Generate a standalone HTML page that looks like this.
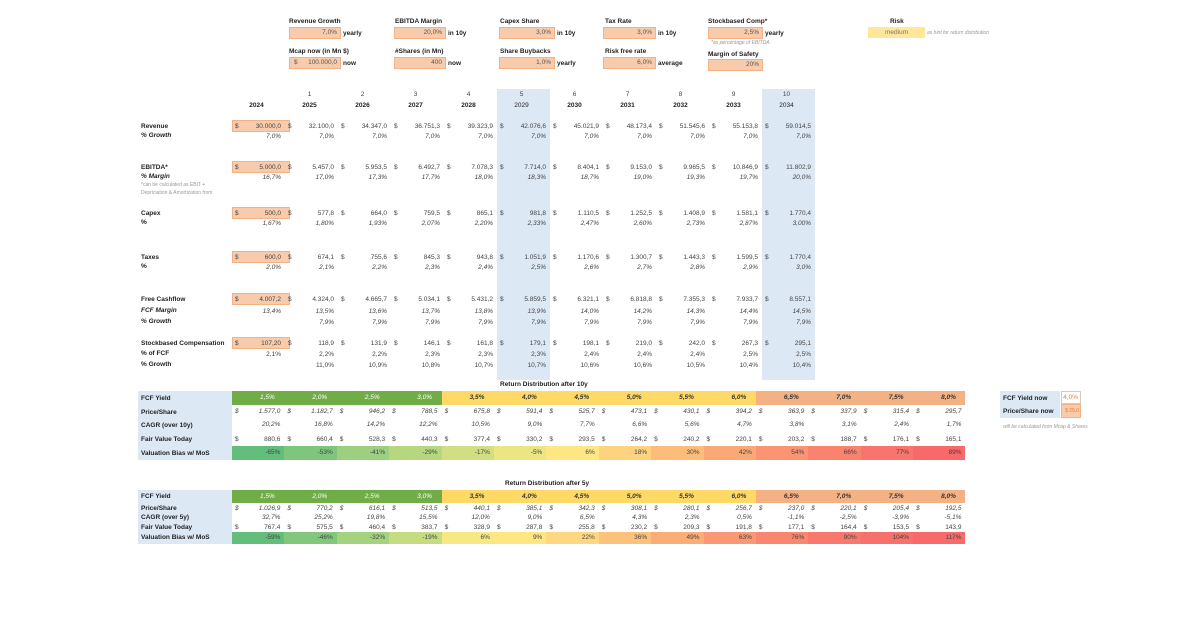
<!DOCTYPE html>
<html><head><meta charset="utf-8"><style>
*{margin:0;padding:0;box-sizing:border-box}
body{width:1200px;height:630px;background:#fff;font-family:"Liberation Sans",sans-serif;font-size:6.5px;color:#444;position:relative;overflow:hidden}
.a{position:absolute;white-space:nowrap}
.b{font-weight:bold;color:#222}
.i{font-style:italic}
.box{position:absolute;background:#f8cbad;border:1px solid #f4b183;text-align:right;padding-right:3px;line-height:10px;height:12px;color:#555}
.hl{position:absolute;background:#dde8f5;top:89px;height:291px;width:53px}
.r{position:absolute;left:232px;display:flex;height:10px;align-items:center}
.c{width:53px;text-align:right;padding-right:4px;position:relative}
.c .d{position:absolute;left:3px}
.t{position:absolute;left:232px;display:flex;align-items:center}
.t .c{width:52.4px}
.lab{position:absolute;left:141px;font-weight:bold;color:#222}
.lb{position:absolute;left:138px;width:94px;background:#dde8f5}
.g{background:#70ad47;color:#fff;font-style:italic;font-weight:normal!important}
.y{background:#ffd966;font-style:italic;font-weight:bold;color:#333}
.o{background:#f4b183;font-style:italic;font-weight:bold;color:#333}
.hd .c{text-align:left;padding-left:28px;font-weight:bold;height:100%;line-height:14px}
</style></head><body>

<div class="a b" style="left:289px;top:18px">Revenue Growth</div>
<div class="box" style="left:289px;top:27px;width:52px">7,0%</div><div class="a b" style="left:343px;top:30px">yearly</div>
<div class="a b" style="left:395px;top:18px">EBITDA Margin</div>
<div class="box" style="left:394px;top:27px;width:52px">20,0%</div><div class="a b" style="left:448px;top:30px">in 10y</div>
<div class="a b" style="left:500px;top:18px">Capex Share</div>
<div class="box" style="left:499px;top:27px;width:56px">3,0%</div><div class="a b" style="left:557px;top:30px">in 10y</div>
<div class="a b" style="left:605px;top:18px">Tax Rate</div>
<div class="box" style="left:603px;top:27px;width:53px">3,0%</div><div class="a b" style="left:658px;top:30px">in 10y</div>
<div class="a b" style="left:708px;top:18px">Stockbased Comp*</div>
<div class="box" style="left:708px;top:27px;width:55px">2,5%</div><div class="a b" style="left:765px;top:30px">yearly</div>
<div class="a i" style="left:711px;top:40px;font-size:5px;color:#999">*as percentage of EBITDA</div>
<div class="a b" style="left:890px;top:18px">Risk</div>
<div class="a" style="left:868px;top:27px;width:57px;height:11px;background:#ffe699;text-align:center;line-height:11px;color:#777">medium</div>
<div class="a i" style="left:927px;top:30px;font-size:5px;color:#999">as hint for return distribution</div>

<div class="a b" style="left:289px;top:48px">Mcap now (in Mn $)</div>
<div class="box" style="left:289px;top:57px;width:52px"><span style="position:absolute;left:4px">$</span>100.000,0</div><div class="a b" style="left:343px;top:60px">now</div>
<div class="a b" style="left:395px;top:48px">#Shares (in Mn)</div>
<div class="box" style="left:394px;top:57px;width:52px">400</div><div class="a b" style="left:448px;top:60px">now</div>
<div class="a b" style="left:500px;top:48px">Share Buybacks</div>
<div class="box" style="left:499px;top:57px;width:56px">1,0%</div><div class="a b" style="left:557px;top:60px">yearly</div>
<div class="a b" style="left:605px;top:48px">Risk free rate</div>
<div class="box" style="left:603px;top:57px;width:53px">6,0%</div><div class="a b" style="left:658px;top:60px">average</div>
<div class="a b" style="left:708px;top:51px">Margin of Safety</div>
<div class="box" style="left:708px;top:59px;width:55px">20%</div>

<div class="hl" style="left:497px"></div>
<div class="hl" style="left:762px"></div>

<div class="r" style="top:89px"><div class="c"></div><div class="c" style="text-align:center">1</div><div class="c" style="text-align:center">2</div><div class="c" style="text-align:center">3</div><div class="c" style="text-align:center">4</div><div class="c" style="text-align:center">5</div><div class="c" style="text-align:center">6</div><div class="c" style="text-align:center">7</div><div class="c" style="text-align:center">8</div><div class="c" style="text-align:center">9</div><div class="c" style="text-align:center">10</div></div>
<div class="r b" style="top:100px"><div class="c" style="text-align:center">2024</div><div class="c" style="text-align:center">2025</div><div class="c" style="text-align:center">2026</div><div class="c" style="text-align:center">2027</div><div class="c" style="text-align:center">2028</div><div class="c" style="text-align:center;font-weight:normal">2029</div><div class="c" style="text-align:center">2030</div><div class="c" style="text-align:center">2031</div><div class="c" style="text-align:center">2032</div><div class="c" style="text-align:center">2033</div><div class="c" style="text-align:center;font-weight:normal">2034</div></div>

<div class="box" style="left:232px;top:120px;width:58px"></div>
<div class="box" style="left:232px;top:161px;width:58px"></div>
<div class="box" style="left:232px;top:207px;width:58px"></div>
<div class="box" style="left:232px;top:251px;width:58px"></div>
<div class="box" style="left:232px;top:293px;width:58px"></div>
<div class="box" style="left:232px;top:337px;width:58px"></div>

<div class="lab" style="top:123px">Revenue</div><div class="lab i" style="top:132px">% Growth</div>
<div class="r" style="top:121px"><div class="c"><span class="d">$</span>30.000,0</div><div class="c"><span class="d">$</span>32.100,0</div><div class="c"><span class="d">$</span>34.347,0</div><div class="c"><span class="d">$</span>36.751,3</div><div class="c"><span class="d">$</span>39.323,9</div><div class="c"><span class="d">$</span>42.076,6</div><div class="c"><span class="d">$</span>45.021,9</div><div class="c"><span class="d">$</span>48.173,4</div><div class="c"><span class="d">$</span>51.545,6</div><div class="c"><span class="d">$</span>55.153,8</div><div class="c"><span class="d">$</span>59.014,5</div></div>
<div class="r i" style="top:131px"><div class="c">7,0%</div><div class="c">7,0%</div><div class="c">7,0%</div><div class="c">7,0%</div><div class="c">7,0%</div><div class="c">7,0%</div><div class="c">7,0%</div><div class="c">7,0%</div><div class="c">7,0%</div><div class="c">7,0%</div><div class="c">7,0%</div></div>

<div class="lab" style="top:164px">EBITDA*</div><div class="lab i" style="top:173px">% Margin</div>
<div class="a" style="left:141px;top:181px;font-size:5px;color:#999;line-height:8px">*can be calculated as EBIT +<br>Depriciation &amp; Amortization from</div>
<div class="r" style="top:162px"><div class="c"><span class="d">$</span>5.000,0</div><div class="c"><span class="d">$</span>5.457,0</div><div class="c"><span class="d">$</span>5.953,5</div><div class="c"><span class="d">$</span>6.492,7</div><div class="c"><span class="d">$</span>7.078,3</div><div class="c"><span class="d">$</span>7.714,0</div><div class="c"><span class="d">$</span>8.404,1</div><div class="c"><span class="d">$</span>9.153,0</div><div class="c"><span class="d">$</span>9.965,5</div><div class="c"><span class="d">$</span>10.846,9</div><div class="c"><span class="d">$</span>11.802,9</div></div>
<div class="r i" style="top:172px"><div class="c">16,7%</div><div class="c">17,0%</div><div class="c">17,3%</div><div class="c">17,7%</div><div class="c">18,0%</div><div class="c">18,3%</div><div class="c">18,7%</div><div class="c">19,0%</div><div class="c">19,3%</div><div class="c">19,7%</div><div class="c">20,0%</div></div>

<div class="lab" style="top:210px">Capex</div><div class="lab" style="top:219px">%</div>
<div class="r" style="top:208px"><div class="c"><span class="d">$</span>500,0</div><div class="c"><span class="d">$</span>577,8</div><div class="c"><span class="d">$</span>664,0</div><div class="c"><span class="d">$</span>759,5</div><div class="c"><span class="d">$</span>865,1</div><div class="c"><span class="d">$</span>981,8</div><div class="c"><span class="d">$</span>1.110,5</div><div class="c"><span class="d">$</span>1.252,5</div><div class="c"><span class="d">$</span>1.408,9</div><div class="c"><span class="d">$</span>1.581,1</div><div class="c"><span class="d">$</span>1.770,4</div></div>
<div class="r i" style="top:218px"><div class="c">1,67%</div><div class="c">1,80%</div><div class="c">1,93%</div><div class="c">2,07%</div><div class="c">2,20%</div><div class="c">2,33%</div><div class="c">2,47%</div><div class="c">2,60%</div><div class="c">2,73%</div><div class="c">2,87%</div><div class="c">3,00%</div></div>

<div class="lab" style="top:254px">Taxes</div><div class="lab" style="top:263px">%</div>
<div class="r" style="top:252px"><div class="c"><span class="d">$</span>600,0</div><div class="c"><span class="d">$</span>674,1</div><div class="c"><span class="d">$</span>755,6</div><div class="c"><span class="d">$</span>845,3</div><div class="c"><span class="d">$</span>943,8</div><div class="c"><span class="d">$</span>1.051,9</div><div class="c"><span class="d">$</span>1.170,6</div><div class="c"><span class="d">$</span>1.300,7</div><div class="c"><span class="d">$</span>1.443,3</div><div class="c"><span class="d">$</span>1.599,5</div><div class="c"><span class="d">$</span>1.770,4</div></div>
<div class="r i" style="top:262px"><div class="c">2,0%</div><div class="c">2,1%</div><div class="c">2,2%</div><div class="c">2,3%</div><div class="c">2,4%</div><div class="c">2,5%</div><div class="c">2,6%</div><div class="c">2,7%</div><div class="c">2,8%</div><div class="c">2,9%</div><div class="c">3,0%</div></div>

<div class="lab" style="top:296px">Free Cashflow</div><div class="lab i" style="top:307px">FCF Margin</div><div class="lab i" style="top:318px">% Growth</div>
<div class="r" style="top:294px"><div class="c"><span class="d">$</span>4.007,2</div><div class="c"><span class="d">$</span>4.324,0</div><div class="c"><span class="d">$</span>4.665,7</div><div class="c"><span class="d">$</span>5.034,1</div><div class="c"><span class="d">$</span>5.431,2</div><div class="c"><span class="d">$</span>5.859,5</div><div class="c"><span class="d">$</span>6.321,1</div><div class="c"><span class="d">$</span>6.818,8</div><div class="c"><span class="d">$</span>7.355,3</div><div class="c"><span class="d">$</span>7.933,7</div><div class="c"><span class="d">$</span>8.557,1</div></div>
<div class="r i" style="top:306px"><div class="c">13,4%</div><div class="c">13,5%</div><div class="c">13,6%</div><div class="c">13,7%</div><div class="c">13,8%</div><div class="c">13,9%</div><div class="c">14,0%</div><div class="c">14,2%</div><div class="c">14,3%</div><div class="c">14,4%</div><div class="c">14,5%</div></div>
<div class="r i" style="top:317px"><div class="c"></div><div class="c">7,9%</div><div class="c">7,9%</div><div class="c">7,9%</div><div class="c">7,9%</div><div class="c">7,9%</div><div class="c">7,9%</div><div class="c">7,9%</div><div class="c">7,9%</div><div class="c">7,9%</div><div class="c">7,9%</div></div>

<div class="lab" style="top:340px">Stockbased Compensation</div><div class="lab" style="top:350px">% of FCF</div><div class="lab" style="top:361px">% Growth</div>
<div class="r" style="top:338px"><div class="c"><span class="d">$</span>107,20</div><div class="c"><span class="d">$</span>118,9</div><div class="c"><span class="d">$</span>131,9</div><div class="c"><span class="d">$</span>146,1</div><div class="c"><span class="d">$</span>161,8</div><div class="c"><span class="d">$</span>179,1</div><div class="c"><span class="d">$</span>198,1</div><div class="c"><span class="d">$</span>219,0</div><div class="c"><span class="d">$</span>242,0</div><div class="c"><span class="d">$</span>267,3</div><div class="c"><span class="d">$</span>295,1</div></div>
<div class="r" style="top:349px"><div class="c">2,1%</div><div class="c">2,2%</div><div class="c">2,2%</div><div class="c">2,3%</div><div class="c">2,3%</div><div class="c">2,3%</div><div class="c">2,4%</div><div class="c">2,4%</div><div class="c">2,4%</div><div class="c">2,5%</div><div class="c">2,5%</div></div>
<div class="r" style="top:360px"><div class="c"></div><div class="c">11,0%</div><div class="c">10,9%</div><div class="c">10,8%</div><div class="c">10,7%</div><div class="c">10,7%</div><div class="c">10,6%</div><div class="c">10,6%</div><div class="c">10,5%</div><div class="c">10,4%</div><div class="c">10,4%</div></div>

<div class="a b" style="left:500px;top:381px">Return Distribution after 10y</div>
<div class="lb" style="top:391px;height:69px"></div>
<div class="lab" style="top:395px">FCF Yield</div><div class="lab" style="top:409px">Price/Share</div><div class="lab" style="top:422px">CAGR (over 10y)</div><div class="lab" style="top:436px">Fair Value Today</div><div class="lab" style="top:450px">Valuation Bias w/ MoS</div>
<div class="t hd" style="top:391px;height:14px"><div class="c g">1,5%</div><div class="c g">2,0%</div><div class="c g">2,5%</div><div class="c g">3,0%</div><div class="c y">3,5%</div><div class="c y">4,0%</div><div class="c y">4,5%</div><div class="c y">5,0%</div><div class="c y">5,5%</div><div class="c y">6,0%</div><div class="c o">6,5%</div><div class="c o">7,0%</div><div class="c o">7,5%</div><div class="c o">8,0%</div></div>
<div class="t i" style="top:405px;height:13px"><div class="c"><span class="d">$</span>1.577,0</div><div class="c"><span class="d">$</span>1.182,7</div><div class="c"><span class="d">$</span>946,2</div><div class="c"><span class="d">$</span>788,5</div><div class="c"><span class="d">$</span>675,8</div><div class="c"><span class="d">$</span>591,4</div><div class="c"><span class="d">$</span>525,7</div><div class="c"><span class="d">$</span>473,1</div><div class="c"><span class="d">$</span>430,1</div><div class="c"><span class="d">$</span>394,2</div><div class="c"><span class="d">$</span>363,9</div><div class="c"><span class="d">$</span>337,9</div><div class="c"><span class="d">$</span>315,4</div><div class="c"><span class="d">$</span>295,7</div></div>
<div class="t i" style="top:418px;height:13px"><div class="c">20,2%</div><div class="c">16,8%</div><div class="c">14,2%</div><div class="c">12,2%</div><div class="c">10,5%</div><div class="c">9,0%</div><div class="c">7,7%</div><div class="c">6,6%</div><div class="c">5,6%</div><div class="c">4,7%</div><div class="c">3,8%</div><div class="c">3,1%</div><div class="c">2,4%</div><div class="c">1,7%</div></div>
<div class="t" style="top:432px;height:14px"><div class="c"><span class="d">$</span>880,6</div><div class="c"><span class="d">$</span>660,4</div><div class="c"><span class="d">$</span>528,3</div><div class="c"><span class="d">$</span>440,3</div><div class="c"><span class="d">$</span>377,4</div><div class="c"><span class="d">$</span>330,2</div><div class="c"><span class="d">$</span>293,5</div><div class="c"><span class="d">$</span>264,2</div><div class="c"><span class="d">$</span>240,2</div><div class="c"><span class="d">$</span>220,1</div><div class="c"><span class="d">$</span>203,2</div><div class="c"><span class="d">$</span>188,7</div><div class="c"><span class="d">$</span>176,1</div><div class="c"><span class="d">$</span>165,1</div></div>
<div class="t" style="top:446px;height:14px"><div class="c" style="background:#63be7b;height:14px;line-height:14px">-65%</div><div class="c" style="background:#7fc67d;height:14px;line-height:14px">-53%</div><div class="c" style="background:#9ccf7f;height:14px;line-height:14px">-41%</div><div class="c" style="background:#b6d780;height:14px;line-height:14px">-29%</div><div class="c" style="background:#d1df82;height:14px;line-height:14px">-17%</div><div class="c" style="background:#ebe583;height:14px;line-height:14px">-5%</div><div class="c" style="background:#fee683;height:14px;line-height:14px">6%</div><div class="c" style="background:#fdd37f;height:14px;line-height:14px">18%</div><div class="c" style="background:#fcbd7b;height:14px;line-height:14px">30%</div><div class="c" style="background:#fba877;height:14px;line-height:14px">42%</div><div class="c" style="background:#fa9473;height:14px;line-height:14px">54%</div><div class="c" style="background:#f9836f;height:14px;line-height:14px">66%</div><div class="c" style="background:#f8746d;height:14px;line-height:14px">77%</div><div class="c" style="background:#f8696b;height:14px;line-height:14px">89%</div></div>

<div class="a" style="left:1000px;top:391px;width:60px;height:27px;background:#dde8f5"></div>
<div class="a b" style="left:1003px;top:395px">FCF Yield now</div>
<div class="a b" style="left:1003px;top:408px">Price/Share now</div>
<div class="a" style="left:1061px;top:391px;width:20px;height:13px;border:1px solid #ccc;color:#ed7d31;text-align:right;padding-right:2px;line-height:11px">4,0%</div>
<div class="a" style="left:1061px;top:404px;width:20px;height:14px;background:#f8cbad;border:1px solid #f4b183;color:#ed7d31;text-align:right;padding-right:1px;line-height:12px;font-size:5px">$ 25,0</div>
<div class="a i" style="left:1003px;top:424px;font-size:5px;color:#999">will be calculated from Mcap &amp; Shares</div>

<div class="a b" style="left:505px;top:480px">Return Distribution after 5y</div>
<div class="lb" style="top:490px;height:54px"></div>
<div class="lab" style="top:493px">FCF Yield</div><div class="lab" style="top:505px">Price/Share</div><div class="lab" style="top:514px">CAGR (over 5y)</div><div class="lab" style="top:524px">Fair Value Today</div><div class="lab" style="top:534px">Valuation Bias w/ MoS</div>
<div class="t hd" style="top:490px;height:13px"><div class="c g" style="line-height:13px">1,5%</div><div class="c g" style="line-height:13px">2,0%</div><div class="c g" style="line-height:13px">2,5%</div><div class="c g" style="line-height:13px">3,0%</div><div class="c y" style="line-height:13px">3,5%</div><div class="c y" style="line-height:13px">4,0%</div><div class="c y" style="line-height:13px">4,5%</div><div class="c y" style="line-height:13px">5,0%</div><div class="c y" style="line-height:13px">5,5%</div><div class="c y" style="line-height:13px">6,0%</div><div class="c o" style="line-height:13px">6,5%</div><div class="c o" style="line-height:13px">7,0%</div><div class="c o" style="line-height:13px">7,5%</div><div class="c o" style="line-height:13px">8,0%</div></div>
<div class="t i" style="top:503px;height:10px"><div class="c"><span class="d">$</span>1.026,9</div><div class="c"><span class="d">$</span>770,2</div><div class="c"><span class="d">$</span>616,1</div><div class="c"><span class="d">$</span>513,5</div><div class="c"><span class="d">$</span>440,1</div><div class="c"><span class="d">$</span>385,1</div><div class="c"><span class="d">$</span>342,3</div><div class="c"><span class="d">$</span>308,1</div><div class="c"><span class="d">$</span>280,1</div><div class="c"><span class="d">$</span>256,7</div><div class="c"><span class="d">$</span>237,0</div><div class="c"><span class="d">$</span>220,1</div><div class="c"><span class="d">$</span>205,4</div><div class="c"><span class="d">$</span>192,5</div></div>
<div class="t i" style="top:512px;height:10px"><div class="c">32,7%</div><div class="c">25,2%</div><div class="c">19,8%</div><div class="c">15,5%</div><div class="c">12,0%</div><div class="c">9,0%</div><div class="c">6,5%</div><div class="c">4,3%</div><div class="c">2,3%</div><div class="c">0,5%</div><div class="c">-1,1%</div><div class="c">-2,5%</div><div class="c">-3,9%</div><div class="c">-5,1%</div></div>
<div class="t" style="top:522px;height:10px"><div class="c"><span class="d">$</span>767,4</div><div class="c"><span class="d">$</span>575,5</div><div class="c"><span class="d">$</span>460,4</div><div class="c"><span class="d">$</span>383,7</div><div class="c"><span class="d">$</span>328,9</div><div class="c"><span class="d">$</span>287,8</div><div class="c"><span class="d">$</span>255,8</div><div class="c"><span class="d">$</span>230,2</div><div class="c"><span class="d">$</span>209,3</div><div class="c"><span class="d">$</span>191,8</div><div class="c"><span class="d">$</span>177,1</div><div class="c"><span class="d">$</span>164,4</div><div class="c"><span class="d">$</span>153,5</div><div class="c"><span class="d">$</span>143,9</div></div>
<div class="t" style="top:532px;height:12px"><div class="c" style="background:#63be7b;height:12px;line-height:12px">-59%</div><div class="c" style="background:#83c77d;height:12px;line-height:12px">-46%</div><div class="c" style="background:#a5d27f;height:12px;line-height:12px">-32%</div><div class="c" style="background:#c5dc81;height:12px;line-height:12px">-19%</div><div class="c" style="background:#f6e884;height:12px;line-height:12px">6%</div><div class="c" style="background:#fee683;height:12px;line-height:12px">9%</div><div class="c" style="background:#fed880;height:12px;line-height:12px">22%</div><div class="c" style="background:#fcc27c;height:12px;line-height:12px">36%</div><div class="c" style="background:#fbad78;height:12px;line-height:12px">49%</div><div class="c" style="background:#fa9774;height:12px;line-height:12px">63%</div><div class="c" style="background:#f98770;height:12px;line-height:12px">76%</div><div class="c" style="background:#f9786e;height:12px;line-height:12px">90%</div><div class="c" style="background:#f8706c;height:12px;line-height:12px">104%</div><div class="c" style="background:#f8696b;height:12px;line-height:12px">117%</div></div>

</body></html>
